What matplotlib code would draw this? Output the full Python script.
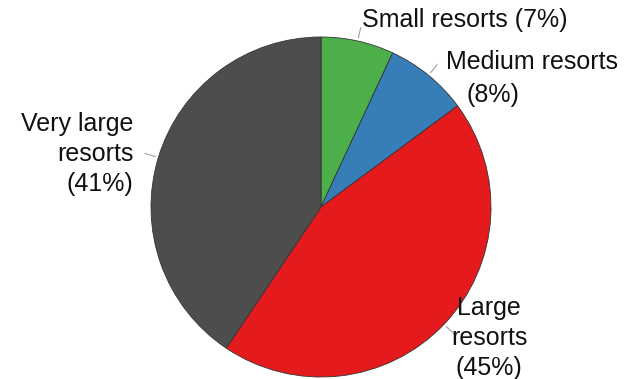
import numpy as np
import matplotlib
matplotlib.use("Agg")
import matplotlib.pyplot as plt

plt.rcParams['font.family'] = ['Liberation Sans', 'DejaVu Sans']

labels = ["Small resorts (7%)", "Medium resorts\n(8%)", "Large\nresorts\n(45%)", "Very large\nresorts\n(41%)"]
shares = [7, 8, 45, 41]
colors = ["#4daf4a", "#377eb8", "#e41a1c", "#4d4d4d"]

# text anchor (x, y) in pie units and horizontal alignment
label_pos = [(0.24, 1.10, "left"), (0.735, 0.755, "left"), (0.99, -0.77, "center"), (-1.105, 0.31, "right")]

fig = plt.figure(figsize=(6.28, 3.79), dpi=100)
ax = fig.add_axes([151 / 628, 2 / 379, 340 / 628, 340 / 379])

wedges, _ = ax.pie(shares, colors=colors, startangle=90, counterclock=False,
                   radius=1.0, wedgeprops=dict(edgecolor="#333333", linewidth=0.6))
ax.set_xlim(-1, 1)
ax.set_ylim(-1, 1)
ax.set_aspect("equal")
ax.axis("off")

for w, lab, (tx, ty, ha) in zip(wedges, labels, label_pos):
    mid = np.deg2rad((w.theta1 + w.theta2) / 2)
    r0, r1 = 1.02, 1.08
    ax.plot([r0 * np.cos(mid), r1 * np.cos(mid)], [r0 * np.sin(mid), r1 * np.sin(mid)],
            color="#a0a0a0", lw=0.8, clip_on=False)
    if lab.startswith("Medium"):
        first, second = lab.split("\n")
        ax.text(tx, ty + 0.097, first, ha="left", va="center", fontsize=18, color="#111111")
        ax.text(tx + 0.277, ty - 0.097, second, ha="center", va="center", fontsize=18, color="#111111")
    else:
        ax.text(tx, ty, lab, ha=ha, va="center", multialignment=ha, fontsize=18,
                color="#111111", linespacing=1.32)

fig.savefig("out.png", dpi=100)
